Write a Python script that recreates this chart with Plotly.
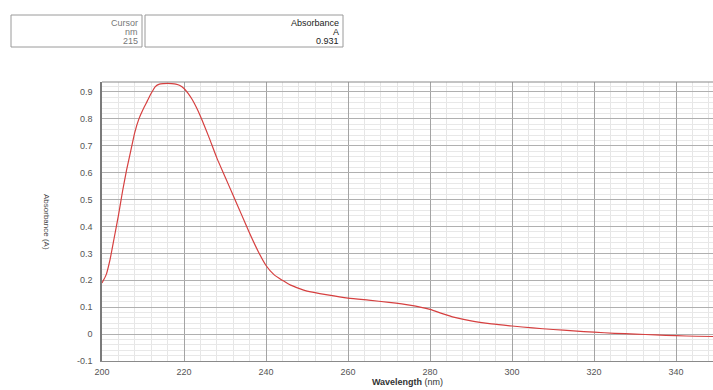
import plotly.graph_objects as go

# Absorbance spectrum (wavelength in nm, absorbance in A)
wavelength_nm = [200, 201, 202, 203, 204, 205, 206, 207, 208, 209, 210, 211, 212, 213,
                 214, 215, 216, 217, 218, 219, 220, 221, 222, 223, 224, 226, 228, 230,
                 232, 234, 236, 238, 240, 242, 244, 246, 248, 250, 255, 260, 265, 270,
                 275, 280, 283, 286, 290, 295, 300, 305, 310, 315, 320, 325, 330, 335,
                 340, 345, 349]
absorbance = [0.19, 0.22, 0.28, 0.36, 0.44, 0.53, 0.61, 0.68, 0.75, 0.80, 0.835, 0.865,
              0.895, 0.92, 0.929, 0.931, 0.932, 0.931, 0.929, 0.924, 0.913, 0.895, 0.872,
              0.843, 0.81, 0.735, 0.655, 0.585, 0.515, 0.445, 0.375, 0.31, 0.255, 0.22,
              0.2, 0.182, 0.17, 0.16, 0.146, 0.134, 0.126, 0.118, 0.108, 0.092, 0.076,
              0.062, 0.049, 0.038, 0.03, 0.023, 0.017, 0.012, 0.007, 0.003, 0.0, -0.003,
              -0.006, -0.008, -0.009]

x_ticks = [200, 220, 240, 260, 280, 300, 320, 340]
y_ticks = [-0.1, 0, 0.1, 0.2, 0.3, 0.4, 0.5, 0.6, 0.7, 0.8, 0.9]
y_tick_text = ["-0.1", "0", "0.1", "0.2", "0.3", "0.4", "0.5", "0.6", "0.7", "0.8", "0.9"]

# Cursor readout table
cursor_header = ["Cursor", "nm", "215"]
absorbance_header = ["Absorbance", "A", "0.931"]

W, H = 713, 390
L, R, T, B = 102, 0, 82, 29
FONT = "Liberation Sans, Arial, sans-serif"

fig = go.Figure()
fig.add_trace(go.Scatter(
    x=wavelength_nm, y=absorbance, mode="lines",
    line=dict(color="#d64040", width=1.2, shape="spline", smoothing=0.6),
    hoverinfo="skip", showlegend=False,
))

tick_font = dict(family=FONT, size=9, color="#555555")

fig.update_xaxes(
    range=[200, 349], tickvals=x_ticks, ticktext=[str(v) for v in x_ticks],
    showgrid=True, gridcolor="#a4a4a4", gridwidth=1,
    minor=dict(dtick=4, showgrid=True, gridcolor="#e6e6e6", gridwidth=1),
    showline=True, linecolor="#8a8a8a", linewidth=1, mirror=False,
    zeroline=False, ticks="", tickfont=tick_font, ticklabelstandoff=2,
    title=dict(text="<b>Wavelength</b> (nm)", font=dict(family=FONT, size=9, color="#333333"),
               standoff=2),
)
fig.update_yaxes(
    range=[-0.1, 0.937], tickvals=y_ticks, ticktext=y_tick_text,
    showgrid=True, gridcolor="#b0b0b0", gridwidth=1,
    minor=dict(dtick=0.02, showgrid=True, gridcolor="#e8e8e8", gridwidth=1),
    showline=True, linecolor="#7a7a7a", linewidth=1.5, mirror=False,
    zeroline=False, ticks="", tickfont=tick_font, ticklabelstandoff=6,
)

shapes = []
# top frame line of the plot area
shapes.append(dict(type="line", xref="paper", yref="paper", x0=0, x1=1, y0=1, y1=1,
                   line=dict(color="#8a8a8a", width=1.2)))

# readout table boxes (pixel positions converted to paper coordinates)
pw, ph = W - L - R, H - T - B
def px(x):
    return (x - L) / pw
def py(y):
    return (H - B - y) / ph

for x0, x1 in [(11, 142), (145, 343)]:
    shapes.append(dict(type="rect", xref="paper", yref="paper",
                       x0=px(x0), x1=px(x1), y0=py(47), y1=py(15),
                       line=dict(color="#9a9a9a", width=1), fillcolor="white"))

annotations = []
row_y = [23, 32, 41]
for i, (a, b) in enumerate(zip(cursor_header, absorbance_header)):
    annotations.append(dict(xref="paper", yref="paper", x=px(140), y=py(row_y[i]),
                            text=a, showarrow=False, xanchor="right", yanchor="middle",
                            font=dict(family=FONT, size=9, color="#777777")))
    annotations.append(dict(xref="paper", yref="paper", x=px(341), y=py(row_y[i]),
                            text=b, showarrow=False, xanchor="right", yanchor="middle",
                            font=dict(family=FONT, size=9, color="#222222")))

# y-axis title, reading top to bottom
annotations.append(dict(xref="paper", yref="paper", x=px(47), y=py(222),
                        text="Absorbance (A)", textangle=90, showarrow=False,
                        xanchor="center", yanchor="middle",
                        font=dict(family=FONT, size=8, color="#444444")))

fig.update_layout(
    width=W, height=H,
    margin=dict(l=L, r=R, t=T, b=B),
    paper_bgcolor="white", plot_bgcolor="white",
    shapes=shapes, annotations=annotations,
)

fig.write_html("out.html")
